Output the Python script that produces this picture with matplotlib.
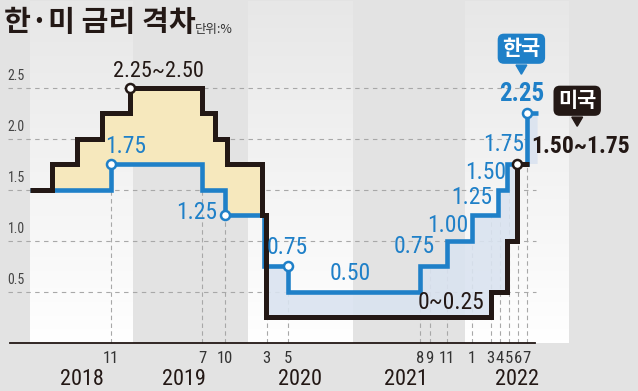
import numpy as np
import matplotlib
matplotlib.use('Agg')
import matplotlib.pyplot as plt

# x positions are in months since Jan 2018, as placed on the original (schematic) time axis
kr_x = [0, 8.97, 19.1, 21.7, 26.0, 28.7, 43.3, 46.3, 49.1, 52.0, 53.0, 55.2, 56.4]
kr_y = [1.50, 1.75, 1.50, 1.25, 0.75, 0.50, 0.75, 1.00, 1.25, 1.50, 1.75, 2.25, 2.25]
us_x = [0, 2.44, 5.2, 8.0, 11.1, 19.1, 20.6, 21.9, 25.8, 26.2, 51.2, 53.0, 54.1, 55.4]
us_y = [1.50, 1.75, 2.00, 2.25, 2.50, 2.25, 2.00, 1.75, 1.25, 0.25, 0.50, 1.00, 1.75, 1.75]

tick_pos = [8.97, 19.1, 21.7, 26.3, 28.7, 43.3, 44.4, 46.3, 49.1, 51.2, 52.2, 53.2, 54.2, 55.2]
tick_lab = ['11', '7', '10', '3', '5', '8', '9', '11', '1', '3', '4', '5', '6', '7']
years = ['2018', '2019', '2020', '2021', '2022']
year_pos = [5.8, 17.1, 30.0, 41.8, 54.1]
year_bands = [(0, 11.4), (24.2, 35.8), (48.3, 59.8)]
yticks = [0.5, 1.0, 1.5, 2.0, 2.5]

# value labels placed next to the Korean rate steps
kr_labels = [('1.75', 10.6, 1.92), ('1.25', 18.5, 1.27), ('0.75', 28.6, 0.93),
             ('0.50', 35.6, 0.68), ('0.75', 42.7, 0.94), ('1.00', 46.4, 1.15),
             ('1.25', 49.1, 1.42), ('1.50', 50.6, 1.67), ('1.75', 52.6, 1.94)]
kr_marks = [(8.97, 1.75), (21.7, 1.25), (28.7, 0.75), (55.2, 2.25)]
us_marks = [(11.1, 2.50), (54.1, 1.75)]

BLUE = '#1f80c8'
BLACK = '#231815'
BG = '#e3e3e3'
NUM = ['Roboto Condensed', 'Archivo Narrow', 'DejaVu Sans']
KR = ['Noto Sans CJK KR', 'DejaVu Sans']

fig = plt.figure(figsize=(6.38, 3.91), dpi=100, facecolor=BG)
ax = fig.add_axes([0, 0, 1, 1])
ax.set_facecolor(BG)
ax.set_xlim(-30 / 9, 608 / 9)
ax.set_ylim(-48.5 / 102, 342.5 / 102)
ax.axis('off')

# white year bands fading to grey at the top
grad = np.ones((100, 1, 4))
grad[:, 0, 3] = np.linspace(0.15, 1.0, 100)
for b0, b1 in year_bands:
    ax.imshow(grad, extent=(b0, b1, 0, 3.35), aspect='auto', zorder=0, origin='upper')

# grid
for v in yticks:
    ax.plot([-2.4, 56.2], [v, v], color='#a8a8a8', lw=0.8, dashes=(4, 4), zorder=1)
    ax.text(-2.5, v + 0.04, f'{v:.1f}', family=NUM, fontsize=10, color='#444444',
            ha='left', va='bottom')


def step_val(xs, ys, p):
    i = np.searchsorted(xs, p, side='right') - 1
    return ys[max(i, 0)]


for p in tick_pos:
    top = max(step_val(kr_x, kr_y, p), step_val(us_x, us_y, p))
    ax.plot([p, p], [0, top], color='#a8a8a8', lw=0.8, dashes=(4, 3), zorder=1)

# fills between the two step lines
grid_x = np.linspace(0, 56.4, 3000)
kr_s = np.array([step_val(kr_x, kr_y, p) for p in grid_x])
us_s = np.array([step_val(us_x, us_y, p) for p in grid_x])
ax.fill_between(grid_x, kr_s, us_s, where=us_s >= kr_s, color='#f6e8bd', zorder=2, lw=0)
ax.fill_between(grid_x, kr_s, us_s, where=kr_s >= us_s, color='#dae3f0', alpha=0.9,
                zorder=2, lw=0)

ax.plot(kr_x, kr_y, drawstyle='steps-post', color=BLUE, lw=3.3, zorder=4,
        solid_joinstyle='miter', solid_capstyle='butt')
ax.plot(us_x, us_y, drawstyle='steps-post', color=BLACK, lw=3.6, zorder=5,
        solid_joinstyle='miter', solid_capstyle='butt')

for mx, my in kr_marks:
    ax.plot(mx, my, 'o', ms=6.5, mfc='white', mec=BLUE, mew=1.8, zorder=7)
for mx, my in us_marks:
    ax.plot(mx, my, 'o', ms=6.5, mfc='white', mec=BLACK, mew=1.8, zorder=7)

# x axis
ax.plot([-2.2, 56.1], [0, 0], color=BLACK, lw=1.3, zorder=6)
for p, lab in zip(tick_pos, tick_lab):
    ax.text(p, -0.08, lab, family=NUM, fontsize=12, color='#333333', ha='center', va='top')
for p, lab in zip(year_pos, years):
    ax.text(p, -0.26, lab, family=NUM, fontsize=16, color=BLACK, ha='center', va='top')

# labels
for t, lx, ly in kr_labels:
    ax.text(lx, ly, t, family=NUM, fontsize=17, color=BLUE, ha='center', va='center', zorder=8)
ax.text(54.6, 2.44, '2.25', family=NUM, fontsize=18, weight='bold', color=BLUE,
        ha='center', va='center', zorder=8)
ax.text(14.3, 2.66, '2.25~2.50', family=NUM, fontsize=16, color=BLACK,
        ha='center', va='center', zorder=8)
ax.text(46.8, 0.39, '0~0.25', family=NUM, fontsize=17, color=BLACK,
        ha='center', va='center', zorder=8)
ax.text(55.7, 1.92, '1.50~1.75', family=NUM, fontsize=17, weight='bold', color=BLACK,
        ha='left', va='center', zorder=8)

# callout boxes
for t, cx, cy, col in [('한국', 54.6, 2.88, BLUE), ('미국', 60.8, 2.37, BLACK)]:
    ax.text(cx, cy, t, family=KR, fontsize=15, weight='bold', color='white',
            ha='center', va='center', zorder=9,
            bbox=dict(boxstyle='round,pad=0.22,rounding_size=0.3', fc=col, ec='none'))
    ax.fill([cx - 0.6, cx + 0.6, cx], [cy - 0.16, cy - 0.16, cy - 0.25], color=col, zorder=9)

fig.text(4 / 638, 1 - 22 / 391, '한·미 금리 격차', family=KR, fontsize=21, weight='bold',
         color=BLACK, ha='left', va='center')
fig.text(195 / 638, 1 - 29 / 391, '단위:%', family=KR, fontsize=9, color='#333333',
         ha='left', va='center')

plt.savefig('out.png', dpi=100, facecolor=BG)
plt.close()
